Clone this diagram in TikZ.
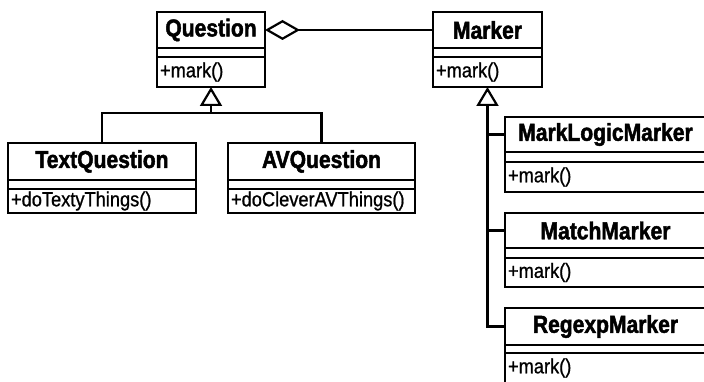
\documentclass[tikz,border=0pt]{standalone}
\usepackage{fontspec}
\setmainfont{Liberation Sans}
\newfontfamily\namefont[BoldFeatures={FakeBold=1.8, FakeStretch=0.86}]{Liberation Sans}
\newfontfamily\opsfont[FakeBold=0.9, FakeStretch=0.89]{Liberation Sans}
\usetikzlibrary{arrows.meta, positioning}

\begin{document}
\begin{tikzpicture}[
  x=1pt, y=-1pt,
  box/.style={rectangle, draw, line width=2.2pt, outer sep=0pt, inner sep=0pt},
  classname/.style={box, anchor=north west, font=\namefont\fontsize{24.5}{26}\selectfont\bfseries},
  attrs/.style={box, minimum height=9pt},
  ops/.style={box, inner xsep=3pt, align=left, font=\opsfont\fontsize{20.5}{22}\selectfont},
  link/.style={line width=2.2pt},
  assoc/.style={link, {Diamond[open, length=35pt, width=20pt]}-},
  inherit/.style={link, -{Triangle[open, length=19pt, width=22pt]}},
]
\clip (0,0) rectangle (704,382);

% Question hierarchy
\node[classname, minimum width=108pt, minimum height=36pt] (question) at (157,12) {Question};
\node[attrs, minimum width=108pt, below=0pt of question] (questionattr) {};
\node[ops, text width=102pt, minimum height=30pt, below=0pt of questionattr] (questionops) {+mark()};

\node[classname, minimum width=188pt, minimum height=37pt] (textquestion) at (8,143) {TextQuestion};
\node[attrs, minimum width=188pt, below=0pt of textquestion] (textquestionattr) {};
\node[ops, text width=182pt, minimum height=24pt, below=0pt of textquestionattr] (textquestionops) {+doTextyThings()};

\node[classname, minimum width=187pt, minimum height=37pt] (avquestion) at (228,143) {AVQuestion};
\node[attrs, minimum width=187pt, below=0pt of avquestion] (avquestionattr) {};
\node[ops, text width=181pt, minimum height=24pt, below=0pt of avquestionattr] (avquestionops) {+doCleverAVThings()};

% Marker hierarchy
\node[classname, minimum width=109pt, minimum height=36pt] (marker) at (433,12) {Marker};
\node[attrs, minimum width=109pt, below=0pt of marker] (markerattr) {};
\node[ops, text width=103pt, minimum height=30pt, below=0pt of markerattr] (markerops) {+mark()};

\node[classname, minimum width=201pt, minimum height=35pt] (marklogicmarker) at (505,117) {MarkLogicMarker};
\node[attrs, minimum width=201pt, minimum height=10pt, below=0pt of marklogicmarker] (marklogicmarkerattr) {};
\node[ops, text width=195pt, minimum height=30pt, below=0pt of marklogicmarkerattr] (marklogicmarkerops) {+mark()};

\node[classname, minimum width=201pt, minimum height=35pt] (matchmarker) at (505,213) {MatchMarker};
\node[attrs, minimum width=201pt, minimum height=10pt, below=0pt of matchmarker] (matchmarkerattr) {};
\node[ops, text width=195pt, minimum height=29pt, below=0pt of matchmarkerattr] (matchmarkerops) {+mark()};

\node[classname, minimum width=201pt, minimum height=37pt] (regexpmarker) at (505,308) {RegexpMarker};
\node[attrs, minimum width=201pt, minimum height=8pt, below=0pt of regexpmarker] (regexpmarkerattr) {};
\node[ops, text width=195pt, minimum height=30pt, below=0pt of regexpmarkerattr] (regexpmarkerops) {+mark()};

% Association
\draw[assoc] (question.east) -- (marker.west);

% Generalisations
\coordinate[below=26pt of questionops] (qjoin);
\draw[link] (textquestion.north) |- (qjoin) -| (avquestion.north);
\draw[inherit] (qjoin) -- (questionops.south);

\draw[inherit] (regexpmarker.west) -| (markerops.south);
\draw[link] (marklogicmarker.west) -- (marklogicmarker.west -| markerops.south);
\draw[link] (matchmarker.west) -- (matchmarker.west -| markerops.south);

\end{tikzpicture}
\end{document}
